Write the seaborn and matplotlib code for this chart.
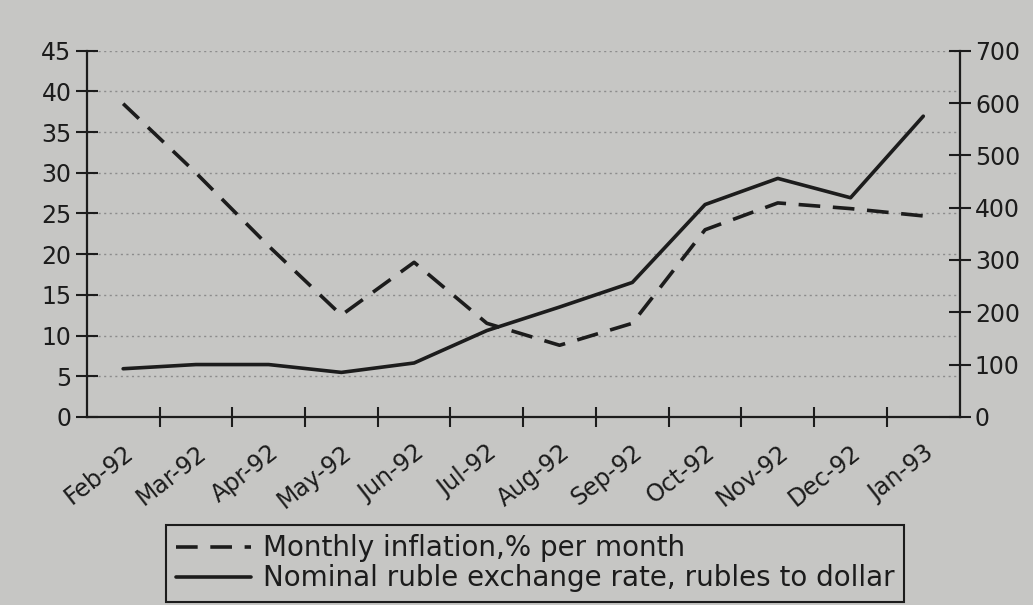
import numpy as np
import pandas as pd
import matplotlib
matplotlib.use('Agg')
import matplotlib.pyplot as plt
from matplotlib.lines import Line2D
import seaborn as sns

months = ['Feb-92', 'Mar-92', 'Apr-92', 'May-92', 'Jun-92', 'Jul-92',
          'Aug-92', 'Sep-92', 'Oct-92', 'Nov-92', 'Dec-92', 'Jan-93']
inflation = [38.5, 30, 21, 12.5, 19, 11.5, 8.8, 11.5, 23, 26.3, 25.6, 24.7]
ruble_rate = [92, 100, 100, 85, 103, 165, 210, 257, 406, 456, 419, 575]

left_ticks = list(range(0, 50, 5))
right_ticks = list(range(0, 800, 100))
labels = ['Monthly inflation,% per month',
          'Nominal ruble exchange rate, rubles to dollar']

paper = '#c6c6c4'
ink = '#1c1c1c'
dash = (0, (6, 3.5))

sns.set_style('ticks')
plt.rcParams['font.family'] = ['DejaVu Sans']
plt.rcParams['text.color'] = ink

df = pd.DataFrame({'month': months, 'inflation': inflation, 'rate': ruble_rate})

fig = plt.figure(figsize=(10.33, 6.05), dpi=100, facecolor=paper)
ax = fig.add_axes([0.084, 0.311, 0.845, 0.605])
ax.set_facecolor(paper)
ax2 = ax.twinx()

sns.lineplot(data=df, x='month', y='inflation', ax=ax, color=ink, lw=2.6,
             sort=False, linestyle=dash)
sns.lineplot(data=df, x='month', y='rate', ax=ax2, color=ink, lw=2.6, sort=False)

# category axis: labels at centres, tick marks on the boundaries
ax.set_xlim(-0.5, len(months) - 0.5)
ax.set_xticks(range(len(months)))
ax.set_xticklabels(months, rotation=38, ha='right', rotation_mode='anchor')
ax.set_xticks(np.arange(0.5, len(months) - 1), minor=True)
ax.tick_params(axis='x', which='major', length=0, pad=17, labelsize=17, labelcolor=ink)
ax.tick_params(axis='x', which='minor', direction='inout', length=15, width=1.5, color=ink)

ax.set_ylim(0, 45)
ax.set_yticks(left_ticks)
ax.tick_params(axis='y', direction='inout', length=16, width=1.5, pad=3,
               labelsize=17, labelcolor=ink, color=ink)
ax2.set_ylim(0, 700)
ax2.set_yticks(right_ticks)
ax2.tick_params(axis='y', direction='inout', length=16, width=1.5, pad=3,
                labelsize=17, labelcolor=ink, color=ink)

ax.yaxis.grid(True, linestyle=(0, (1.5, 2.5)), color='#8c8c8c', lw=1)
ax.set_xlabel('')
ax.set_ylabel('')
ax2.set_ylabel('')

for s in ['top', 'right']:
    ax.spines[s].set_visible(False)
for s in ['top', 'left', 'bottom']:
    ax2.spines[s].set_visible(False)
for a, s in [(ax, 'left'), (ax, 'bottom'), (ax2, 'right')]:
    a.spines[s].set_color(ink)
    a.spines[s].set_linewidth(1.6)

handles = [Line2D([], [], color=ink, lw=2.6, linestyle=dash),
           Line2D([], [], color=ink, lw=2.6)]
leg = fig.legend(handles, labels, loc='upper center', bbox_to_anchor=(0.518, 0.133),
                 frameon=True, fancybox=False, edgecolor=ink, facecolor=paper,
                 framealpha=1, handlelength=2.7, handletextpad=0.45,
                 borderpad=0.35, borderaxespad=0, labelspacing=0.08,
                 prop={'family': 'DejaVu Sans', 'size': 20})
leg.get_frame().set_linewidth(1.5)

fig.savefig('out.png', dpi=100, facecolor=paper)
